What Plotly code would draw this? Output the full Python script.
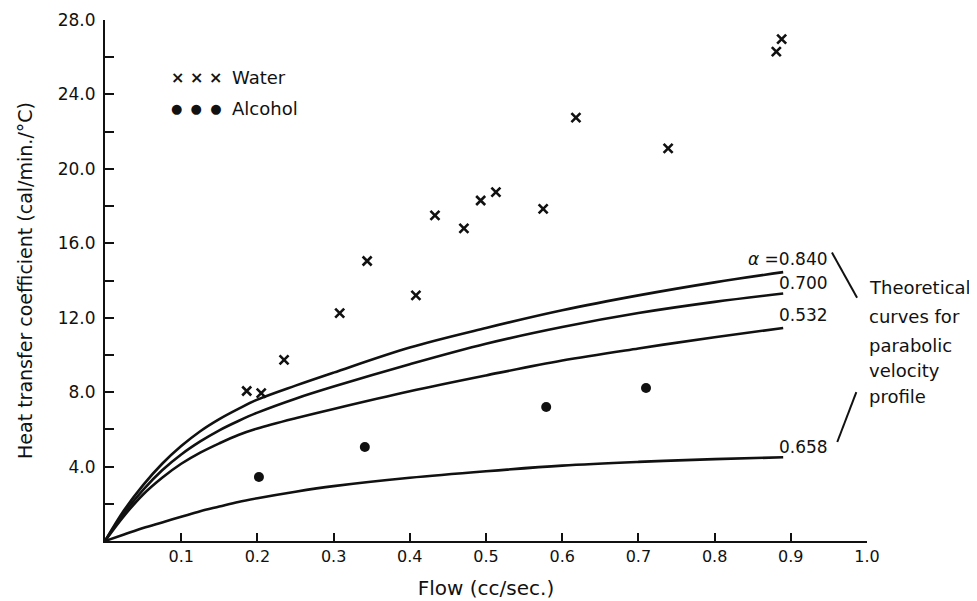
import plotly.graph_objects as go

# ---- data ----
water_x = [0.186, 0.205, 0.235, 0.308, 0.344, 0.408, 0.433, 0.471, 0.493, 0.513, 0.575, 0.618, 0.739, 0.881, 0.888]
water_y = [8.06, 7.95, 9.73, 12.25, 15.05, 13.2, 17.5, 16.8, 18.3, 18.75, 17.85, 22.75, 21.1, 26.3, 26.97]

alcohol_x = [0.202, 0.341, 0.579, 0.710]
alcohol_y = [3.44, 5.05, 7.2, 8.22]

curve_x = [0, 0.025, 0.05, 0.075, 0.1, 0.125, 0.15, 0.175, 0.2, 0.25, 0.3, 0.4, 0.5, 0.6, 0.7, 0.8, 0.89]
curve_840 = [0, 1.65, 3.0, 4.15, 5.1, 5.9, 6.55, 7.1, 7.6, 8.35, 9.05, 10.4, 11.45, 12.4, 13.2, 13.9, 14.45]
curve_700 = [0, 1.5, 2.75, 3.8, 4.65, 5.35, 5.95, 6.45, 6.9, 7.65, 8.3, 9.5, 10.6, 11.5, 12.25, 12.85, 13.3]
curve_532 = [0, 1.35, 2.5, 3.4, 4.15, 4.75, 5.25, 5.7, 6.05, 6.6, 7.1, 8.05, 8.9, 9.7, 10.35, 10.95, 11.45]
curve_658 = [0, 0.35, 0.7, 1.0, 1.3, 1.6, 1.85, 2.1, 2.3, 2.65, 2.95, 3.4, 3.75, 4.05, 4.25, 4.4, 4.5]

curve_labels = ["<i>α</i> =0.840", "0.700", "0.532", "0.658"]
curve_label_y = [15.15, 13.86, 12.14, 5.05]

x_tickvals = [0.1, 0.2, 0.3, 0.4, 0.5, 0.6, 0.7, 0.8, 0.9, 1.0]
x_ticktext = ["0.1", "0.2", "0.3", "0.4", "0.5", "0.6", "0.7", "0.8", "0.9", "1.0"]
y_tickvals = [4, 8, 12, 16, 20, 24, 28]
y_ticktext = ["4.0", "8.0", "12.0", "16.0", "20.0", "24.0", "28.0"]

note_lines = ["Theoretical", "curves for", "parabolic", "velocity", "profile"]
note_y = [13.6, 12.04, 10.53, 9.19, 7.74]

FONT = "DejaVu Sans"
BLACK = "#111111"

fig = go.Figure()

for ys in [curve_840, curve_700, curve_532, curve_658]:
    fig.add_trace(go.Scatter(x=curve_x, y=ys, mode="lines",
                             line=dict(color=BLACK, width=2.6, shape="spline", smoothing=1.0),
                             showlegend=False, hoverinfo="skip"))

fig.add_trace(go.Scatter(x=water_x, y=water_y, mode="markers", name="Water",
                         marker=dict(symbol="x-thin", size=9, line=dict(color=BLACK, width=2.6), color=BLACK),
                         showlegend=False))
fig.add_trace(go.Scatter(x=alcohol_x, y=alcohol_y, mode="markers", name="Alcohol",
                         marker=dict(symbol="circle", size=10, color=BLACK),
                         showlegend=False))

annotations = []
for txt, yy in zip(curve_labels, curve_label_y):
    annotations.append(dict(x=0.951, y=yy, xref="x", yref="y", text=txt, showarrow=False,
                            xanchor="right", yanchor="middle", font=dict(family=FONT, size=17, color=BLACK)))
for txt, yy in zip(note_lines, note_y):
    annotations.append(dict(x=1.0, y=yy, xref="x", yref="y", text=txt, showarrow=False,
                            xanchor="left", yanchor="middle", font=dict(family=FONT, size=18, color=BLACK)))

# legend (drawn as text)
annotations += [
    dict(x=0.12, y=24.9, xref="x", yref="y", text="<b>× × ×</b>", showarrow=False, xanchor="center", yanchor="middle",
         font=dict(family=FONT, size=16, color=BLACK)),
    dict(x=0.164, y=24.9, xref="x", yref="y", text="Water", showarrow=False, xanchor="left", yanchor="middle",
         font=dict(family=FONT, size=18, color=BLACK)),
    dict(x=0.12, y=23.27, xref="x", yref="y", text="●  ●  ●", showarrow=False, xanchor="center", yanchor="middle",
         font=dict(family=FONT, size=13, color=BLACK)),
    dict(x=0.164, y=23.27, xref="x", yref="y", text="Alcohol", showarrow=False, xanchor="left", yanchor="middle",
         font=dict(family=FONT, size=18, color=BLACK)),
]

shapes = [
    dict(type="line", xref="x", yref="y", x0=0.954, y0=15.5, x1=0.987, y1=13.07, line=dict(color=BLACK, width=2)),
    dict(type="line", xref="x", yref="y", x0=0.986, y0=8.0, x1=0.961, y1=5.32, line=dict(color=BLACK, width=2)),
]

# page body has an 8px margin: shrink figure so the plot lands where the reference has it
fig.update_layout(
    width=969, height=593,
    margin=dict(l=97, r=110, t=12, b=60),
    paper_bgcolor="white", plot_bgcolor="white",
    font=dict(family=FONT, size=16, color=BLACK),
    annotations=annotations, shapes=shapes,
    showlegend=False,
)

fig.update_xaxes(range=[0, 1.0], showgrid=False, zeroline=False, showline=True, linecolor=BLACK, linewidth=2,
                 ticks="inside", ticklen=8, tickwidth=2, tickcolor=BLACK, automargin=False,
                 tickvals=x_tickvals, ticktext=x_ticktext, tickfont=dict(family=FONT, size=16, color=BLACK),
                 title=dict(text="Flow (cc/sec.)", font=dict(family=FONT, size=20, color=BLACK), standoff=16))
fig.update_yaxes(range=[0, 28], showgrid=False, zeroline=False, showline=True, linecolor=BLACK, linewidth=2,
                 ticks="inside", ticklen=9, tickwidth=2, tickcolor=BLACK, automargin=False,
                 tickvals=y_tickvals, ticktext=y_ticktext, tickfont=dict(family=FONT, size=17, color=BLACK),
                 ticklabelstandoff=4,
                 minor=dict(dtick=2, tick0=0, ticks="inside", ticklen=9, tickwidth=2, tickcolor=BLACK),
                 title=dict(text="Heat transfer coefficient (cal/min./°C)", font=dict(family=FONT, size=19, color=BLACK), standoff=20))

fig.write_html("out.html")
